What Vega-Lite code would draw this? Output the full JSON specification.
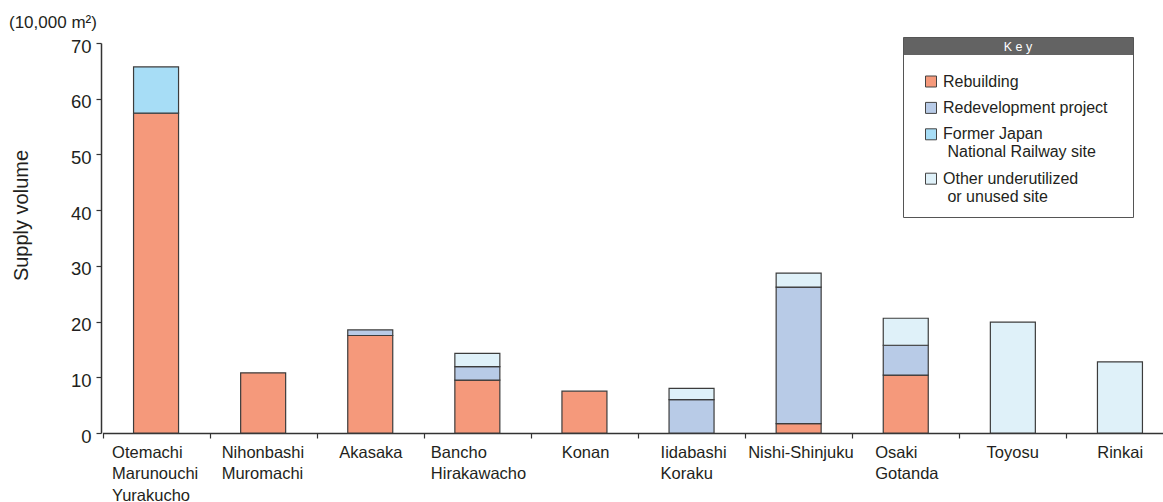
{
  "$schema": "https://vega.github.io/schema/vega-lite/v6.json",
  "width": 1062,
  "height": 390,
  "autosize": {"type": "none"},
  "padding": {"left": 101, "top": 43, "right": 0, "bottom": 69},
  "background": "white",
  "config": {
    "font": "Liberation Sans",
    "view": {"stroke": null}
  },
  "title": {
    "text": "(10,000 m²)",
    "anchor": "start",
    "frame": "bounds",
    "fontSize": 17,
    "fontWeight": "normal",
    "color": "#231f20",
    "offset": 5,
    "dx": -2
  },
  "data": {
    "values": [
      {"area": "Otemachi|Marunouchi|Yurakucho", "type": "Rebuilding", "ord": 1, "value": 57.4},
      {"area": "Otemachi|Marunouchi|Yurakucho", "type": "Former Japan National Railway site", "ord": 3, "value": 8.3},
      {"area": "Nihonbashi|Muromachi", "type": "Rebuilding", "ord": 1, "value": 10.8},
      {"area": "Akasaka", "type": "Rebuilding", "ord": 1, "value": 17.5},
      {"area": "Akasaka", "type": "Redevelopment project", "ord": 2, "value": 1.0},
      {"area": "Bancho|Hirakawacho", "type": "Rebuilding", "ord": 1, "value": 9.5},
      {"area": "Bancho|Hirakawacho", "type": "Redevelopment project", "ord": 2, "value": 2.4},
      {"area": "Bancho|Hirakawacho", "type": "Other underutilized or unused site", "ord": 4, "value": 2.4},
      {"area": "Konan", "type": "Rebuilding", "ord": 1, "value": 7.5},
      {"area": "Iidabashi|Koraku", "type": "Redevelopment project", "ord": 2, "value": 6.0},
      {"area": "Iidabashi|Koraku", "type": "Other underutilized or unused site", "ord": 4, "value": 2.0},
      {"area": "Nishi-Shinjuku", "type": "Rebuilding", "ord": 1, "value": 1.7},
      {"area": "Nishi-Shinjuku", "type": "Redevelopment project", "ord": 2, "value": 24.5},
      {"area": "Nishi-Shinjuku", "type": "Other underutilized or unused site", "ord": 4, "value": 2.5},
      {"area": "Osaki|Gotanda", "type": "Rebuilding", "ord": 1, "value": 10.4},
      {"area": "Osaki|Gotanda", "type": "Redevelopment project", "ord": 2, "value": 5.35},
      {"area": "Osaki|Gotanda", "type": "Other underutilized or unused site", "ord": 4, "value": 4.85},
      {"area": "Toyosu", "type": "Other underutilized or unused site", "ord": 4, "value": 19.9},
      {"area": "Rinkai", "type": "Other underutilized or unused site", "ord": 4, "value": 12.75}
    ]
  },
  "mark": {"type": "bar", "width": 45, "stroke": "#3c3c3c", "strokeWidth": 1.2},
  "encoding": {
    "x": {
      "field": "area",
      "type": "nominal",
      "sort": null,
      "scale": {"range": [1.5, 1072.5], "paddingInner": 0, "paddingOuter": 0},
      "axis": {
        "title": null,
        "labelAngle": 0,
        "tickBand": "extent",
        "domainColor": "#333333",
        "domainWidth": 1.5,
        "tickColor": "#333333",
        "tickSize": 5,
        "tickWidth": 1.2,
        "labelAlign": "left",
        "labelBaseline": "top",
        "labelPadding": 6,
        "labelFontSize": 16.5,
        "labelLineHeight": 21.6,
        "labelColor": "#231f20",
        "labelExpr": "split(datum.label, '|')",
        "labelOffset": {"expr": "datum.value=='Otemachi|Marunouchi|Yurakucho'?-44.5:datum.value=='Nihonbashi|Muromachi'?-42:datum.value=='Akasaka'?-31.5:datum.value=='Bancho|Hirakawacho'?-47:datum.value=='Konan'?-23.3:datum.value=='Iidabashi|Koraku'?-31.5:datum.value=='Nishi-Shinjuku'?-51:datum.value=='Osaki|Gotanda'?-31:datum.value=='Toyosu'?-26.8:-23.2"}
      }
    },
    "y": {
      "field": "value",
      "type": "quantitative",
      "stack": "zero",
      "scale": {"domain": [0, 70], "nice": false},
      "axis": {
        "title": "Supply volume",
        "titleFontSize": 20,
        "titleFontWeight": "normal",
        "titleColor": "#231f20",
        "titleX": -80,
        "titleY": 172,
        "titleAngle": 270,
        "titleAlign": "center",
        "titleBaseline": "middle",
        "values": [0, 10, 20, 30, 40, 50, 60, 70],
        "grid": false,
        "domainColor": "#333333",
        "domainWidth": 1.5,
        "tickColor": "#333333",
        "tickSize": 5,
        "tickWidth": 1.2,
        "labelFontSize": 18.5,
        "labelPadding": 5,
        "labelOffset": 3,
        "labelColor": "#231f20"
      }
    },
    "order": {"field": "ord", "type": "quantitative"},
    "color": {
      "field": "type",
      "type": "nominal",
      "scale": {
        "domain": ["Rebuilding", "Redevelopment project", "Former Japan National Railway site", "Other underutilized or unused site"],
        "range": ["#f5997b", "#b8cbe7", "#a7ddf6", "#dff1f9"]
      },
      "legend": {
        "title": "K e y",
        "orient": "none",
        "legendX": 802,
        "legendY": -6,
        "padding": 12,
        "titleFontSize": 12.5,
        "titleFontWeight": "normal",
        "titleColor": "#ffffff",
        "titleAnchor": "middle",
        "titlePadding": 12,
        "symbolType": "square",
        "symbolSize": 121,
        "symbolStrokeColor": "#444444",
        "symbolStrokeWidth": 1,
        "symbolOffset": 8,
        "labelOffset": 4,
        "labelFontSize": 16,
        "labelLimit": 400,
        "labelColor": "#231f20",
        "labelLineHeight": 20.5,
        "rowPadding": 10.4,
        "strokeColor": "#555555",
        "labelExpr": "datum.label == 'Former Japan National Railway site' ? ['Former Japan', '\u200b National Railway site'] : datum.label == 'Other underutilized or unused site' ? ['Other underutilized', '\u200b or unused site'] : datum.label == 'Redevelopment project' ? 'Redevelopment project   \u200b' : datum.label",
        "encode": {
          "title": {"update": {"dy": {"value": -8}}},
          "legend": {
            "update": {
              "fill": {"value": {"gradient": "linear", "x1": 0, "y1": 0, "x2": 0, "y2": 1, "stops": [
                {"offset": 0, "color": "#636363"},
                {"offset": 0.095, "color": "#636363"},
                {"offset": 0.095, "color": "#ffffff"},
                {"offset": 1, "color": "#ffffff"}
              ]}}
            }
          }
        }
      }
    }
  }
}
